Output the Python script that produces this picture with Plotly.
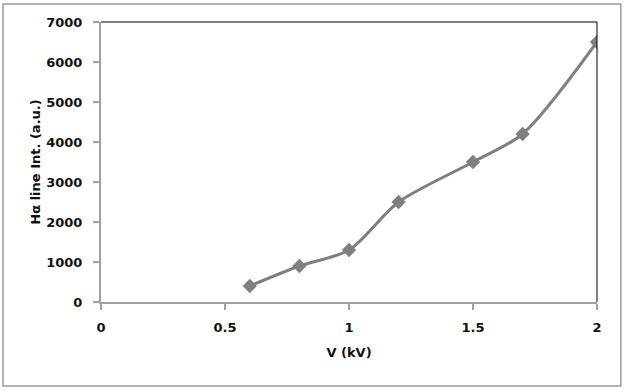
import plotly.graph_objects as go

voltage_kv = [0.6, 0.8, 1.0, 1.2, 1.5, 1.7, 2.0]
halpha_int = [400, 900, 1300, 2500, 3500, 4200, 6500]

x_ticks = [0, 0.5, 1, 1.5, 2]
x_tick_labels = ["0", "0.5", "1", "1.5", "2"]
y_ticks = [0, 1000, 2000, 3000, 4000, 5000, 6000, 7000]

font_family = "DejaVu Sans"
fig = go.Figure()
fig.add_trace(go.Scatter(
    x=voltage_kv, y=halpha_int, mode="lines+markers",
    line=dict(color="#7f7f7f", width=3, shape="spline", smoothing=0.8),
    marker=dict(symbol="diamond", size=11, color="#7f7f7f"),
    showlegend=False,
))

axis_common = dict(
    showgrid=False, zeroline=False, showline=True, linecolor="#a0a0a0", linewidth=2,
    ticks="outside", ticklen=6, tickcolor="#a0a0a0", tickwidth=1.5,
    tickfont=dict(family=font_family, size=13, color="#111111", weight="bold"),
)
fig.update_xaxes(range=[0, 2], tickvals=x_ticks, ticktext=x_tick_labels, ticklabelstandoff=6,
                 title=dict(text="<b>V (kV)</b>", font=dict(family=font_family, size=13, color="#111111"), standoff=14),
                 **axis_common)
fig.update_yaxes(range=[0, 7000], tickvals=y_ticks, ticklabelstandoff=8,
                 title=dict(text="<b>Hα line Int. (a.u.)</b>", font=dict(family=font_family, size=13, color="#111111"), standoff=3),
                 **axis_common)

shapes = [
    dict(type="line", xref="paper", yref="paper", x0=0, x1=1, y0=1, y1=1, line=dict(color="#000000", width=1)),
    dict(type="line", xref="paper", yref="paper", x0=1, x1=1, y0=0, y1=1, line=dict(color="#000000", width=1)),
    dict(type="rect", xref="paper", yref="paper", x0=-0.1976, x1=1.048, y0=-0.3, y1=1.064,
         line=dict(color="#9a9a9a", width=1.5), layer="below"),
]
fig.update_layout(
    width=631, height=392,
    margin=dict(l=101, r=34, t=22, b=90),
    paper_bgcolor="white", plot_bgcolor="white",
    shapes=shapes,
)
fig.write_html("out.html")
